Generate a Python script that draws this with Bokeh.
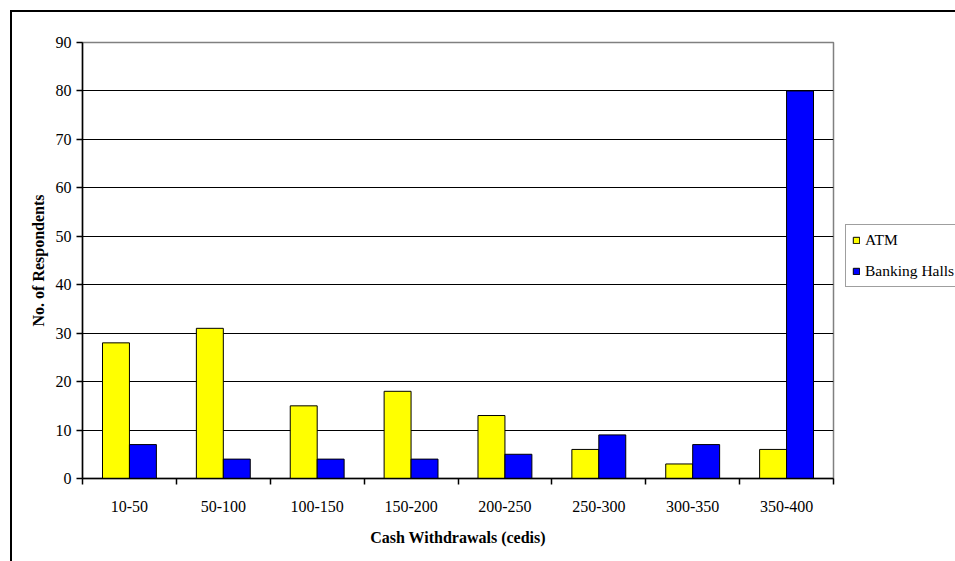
from bokeh.plotting import figure
from bokeh.models import ColumnDataSource, FixedTicker, Range1d, Legend, LegendItem
from bokeh.embed import file_html
from bokeh.resources import INLINE

categories = ["10-50", "50-100", "100-150", "150-200", "200-250", "250-300", "300-350", "350-400"]
atm = [28, 31, 15, 18, 13, 6, 3, 6]
banking = [7, 4, 4, 4, 5, 9, 7, 80]
y_ticks = [0, 10, 20, 30, 40, 50, 60, 70, 80, 90]

SERIF = "Liberation Serif"
BAR_W = 0.287

idx = list(range(len(categories)))
centers = [i + 0.5 for i in idx]
src = ColumnDataSource(dict(
    x_atm=[c - BAR_W / 2 for c in centers],
    x_bank=[c + BAR_W / 2 for c in centers],
    atm=atm, banking=banking, cat=categories,
))

p = figure(width=943, height=549, frame_width=751, frame_height=436,
           output_backend="svg", toolbar_location=None,
           x_range=Range1d(0, len(categories)), y_range=Range1d(0, 90),
           min_border_left=70, min_border_right=122, min_border_top=30, min_border_bottom=83)
p.margin = (10, 0, 0, 10)
p.styles = {"border-top": "2px solid black", "border-left": "2px solid black"}
p.background_fill_color = "white"
p.border_fill_color = "white"
p.outline_line_color = "#808080"
p.outline_line_width = 1.5

r1 = p.vbar(x="x_atm", top="atm", width=BAR_W, source=src, fill_color="#FFFF00",
            line_color="black", line_width=1)
r2 = p.vbar(x="x_bank", top="banking", width=BAR_W, source=src, fill_color="#0000FF",
            line_color="black", line_width=1)

# axes
p.xaxis.ticker = FixedTicker(ticks=centers, minor_ticks=list(range(len(categories) + 1)))
p.xaxis.major_label_overrides = {c: lab for c, lab in zip(centers, categories)}
p.xaxis.major_tick_in = 0
p.xaxis.major_tick_out = 0
p.xaxis.minor_tick_in = 0
p.xaxis.minor_tick_out = 6
p.xaxis.minor_tick_line_color = "black"
p.xaxis.minor_tick_line_width = 1.5
p.xaxis.major_label_standoff = 16
p.xaxis.axis_label = "Cash Withdrawals (cedis)"
p.xaxis.axis_label_standoff = 14

p.yaxis.ticker = FixedTicker(ticks=y_ticks)
p.yaxis.major_tick_in = 0
p.yaxis.major_tick_out = 6
p.yaxis.major_label_standoff = 5
p.yaxis.axis_label = "No. of Respondents"
p.yaxis.axis_label_standoff = 6

for ax in (p.xaxis, p.yaxis):
    ax.axis_line_color = "black"
    ax.axis_line_width = 1.5
    ax.major_tick_line_color = "black"
    ax.major_tick_line_width = 1.5
    ax.major_label_text_font = SERIF
    ax.major_label_text_font_size = "16px"
    ax.major_label_text_color = "black"
    ax.axis_label_text_font = SERIF
    ax.axis_label_text_font_size = "16px"
    ax.axis_label_text_font_style = "bold"
    ax.axis_label_text_color = "black"

p.xgrid.visible = False
p.ygrid.ticker = FixedTicker(ticks=y_ticks[1:-1])
p.ygrid.grid_line_color = "black"
p.ygrid.grid_line_width = 1

legend = Legend(items=[LegendItem(label="ATM", renderers=[r1]),
                       LegendItem(label="Banking Halls", renderers=[r2])],
                location=(12, 191))
legend.label_text_font = SERIF
legend.label_text_font_size = "15.5px"
legend.label_text_color = "black"
legend.glyph_width = 8
legend.glyph_height = 8
legend.label_standoff = 5
legend.label_height = 16
legend.spacing = 13
legend.padding = 6
legend.margin = 0
legend.border_line_color = "#404040"
legend.border_line_width = 1.5
legend.background_fill_color = "white"
legend.background_fill_alpha = 1
p.add_layout(legend, "right")

open("out.html", "w").write(file_html(p, INLINE))
